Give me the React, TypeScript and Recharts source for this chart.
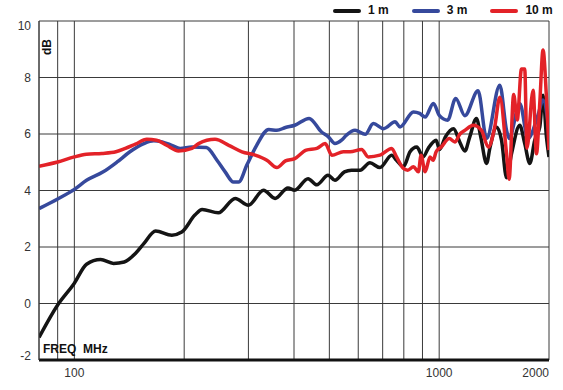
import React from 'react';
import { LineChart, Line, XAxis, YAxis, CartesianGrid, ReferenceLine } from 'recharts';

// 1 m series
const oneMFreq = [80, 90, 100, 108, 118, 128, 137, 147, 155, 167, 185, 197, 214, 224, 248, 276, 300, 330, 355, 385, 402, 437, 462, 496, 518, 550, 575, 607, 646, 688, 741, 764, 798, 832, 868, 904, 933, 981, 1002, 1040, 1095, 1140, 1176, 1213, 1265, 1300, 1349, 1377, 1436, 1482, 1530, 1579, 1663, 1716, 1772, 1828, 1887, 1926, 1968, 2000];
const oneMdB = [-1.2, -0.05, 0.72, 1.39, 1.56, 1.42, 1.47, 1.77, 2.12, 2.57, 2.42, 2.53, 3.13, 3.33, 3.21, 3.72, 3.48, 4.01, 3.72, 4.09, 4.01, 4.42, 4.2, 4.54, 4.36, 4.66, 4.72, 4.72, 4.98, 4.81, 5.25, 5.07, 4.84, 5.37, 5.54, 5.19, 5.49, 5.78, 5.45, 5.9, 6.19, 5.7, 5.4, 5.9, 6.55, 5.9, 4.96, 5.5, 6.25, 5.78, 4.45, 5.31, 6.31, 5.66, 4.96, 5.78, 6.25, 7.37, 5.9, 5.19];

// 3 m series
const threeMFreq = [80, 90, 100, 108, 120, 131, 142, 155, 165, 174, 185, 195, 210, 230, 246, 259, 273, 282, 297, 316, 341, 359, 379, 402, 440, 476, 497, 518, 540, 557, 588, 627, 660, 704, 757, 781, 850, 884, 915, 964, 1002, 1055, 1110, 1176, 1278, 1349, 1466, 1530, 1555, 1663, 1752, 1866, 1926, 2000];
const threeMdB = [3.36, 3.7, 4.04, 4.36, 4.66, 5.01, 5.37, 5.66, 5.76, 5.72, 5.6, 5.49, 5.54, 5.52, 5.07, 4.66, 4.3, 4.3, 4.9, 5.6, 6.16, 6.13, 6.23, 6.31, 6.55, 6.07, 5.9, 5.66, 5.78, 5.96, 6.13, 5.99, 6.37, 6.19, 6.43, 6.25, 6.78, 6.73, 6.6, 7.08, 6.65, 6.49, 7.26, 6.65, 7.53, 5.84, 7.73, 6.13, 5.84, 7.08, 5.84, 6.67, 7.2, 6.13];

// 10 m series
const tenMFreq = [80, 90, 100, 108, 119, 130, 138, 147, 158, 168, 179, 193, 210, 219, 243, 265, 288, 313, 337, 359, 379, 402, 432, 462, 487, 508, 546, 570, 613, 639, 688, 741, 764, 798, 820, 850, 877, 892, 915, 944, 963, 981, 1013, 1066, 1104, 1140, 1176, 1240, 1306, 1364, 1420, 1466, 1530, 1555, 1600, 1637, 1681, 1716, 1740, 1809, 1848, 1887, 1926, 1968, 2000];
const tenMdB = [4.86, 5.01, 5.19, 5.28, 5.31, 5.37, 5.49, 5.64, 5.81, 5.78, 5.6, 5.4, 5.49, 5.66, 5.81, 5.6, 5.37, 5.25, 5.07, 4.81, 5.05, 5.13, 5.43, 5.49, 5.66, 5.25, 5.37, 5.37, 5.45, 5.19, 5.25, 5.49, 5.19, 4.78, 4.72, 4.84, 4.66, 5.25, 4.66, 5.19, 5.07, 5.37, 5.54, 5.84, 5.72, 6.0, 6.13, 6.31, 6.13, 5.54, 6.25, 7.3, 5.3, 4.4, 7.4, 6.5, 8.3, 8.3, 5.5, 7.55, 5.3, 7.1, 8.97, 7.3, 5.43];

const seriesNames = ['1 m', '3 m', '10 m'];
const seriesColors = ['#141414', '#36499c', '#e32228'];

const gridFreqs = [80, 90, 100, 200, 300, 400, 500, 600, 700, 800, 900, 1000, 2000];
const xTicks = [100, 1000, 2000];
const yTicks = [-2, 0, 2, 4, 6, 8, 10];

const build = (fs: number[], vs: number[]) => fs.map((f, i) => ({ f, v: vs[i] }));
const seriesData = [build(oneMFreq, oneMdB), build(threeMFreq, threeMdB), build(tenMFreq, tenMdB)];

const FONT = 'Arial, "Liberation Sans", sans-serif';

const YTick = (props: any) => {
  const { x, y, payload } = props;
  let dy = 4;
  if (payload.value === 10) dy = 9;
  if (payload.value === -2) dy = 0;
  return (
    <text x={x} y={y + dy} textAnchor="end" fontSize={12} fill="#333" fontFamily={FONT}>
      {payload.value}
    </text>
  );
};

const XTick = (props: any) => {
  const { x, y, payload } = props;
  const anchor = payload.value === 2000 ? 'end' : 'middle';
  return (
    <text x={x} y={y + 9} textAnchor={anchor} fontSize={12} fill="#333" fontFamily={FONT}>
      {payload.value}
    </text>
  );
};

export default function App() {
  return (
    <div style={{ position: 'absolute', left: 0, top: 0, width: 563, height: 390, background: '#fff' }}>
      <LineChart width={563} height={390} margin={{ top: 21, right: 14, bottom: 0, left: 0 }}>
        <CartesianGrid horizontal={true} vertical={false} stroke="#3a3a3a" strokeWidth={1} />
        <XAxis
          dataKey="f"
          type="number"
          scale="log"
          domain={[80, 2000]}
          allowDataOverflow
          ticks={xTicks}
          tickLine={false}
          axisLine={{ stroke: '#111', strokeWidth: 3 }}
          height={30}
          tick={<XTick />}
          interval={0}
        />
        <YAxis
          type="number"
          domain={[-2, 10]}
          ticks={yTicks}
          width={39}
          tickLine={false}
          axisLine={{ stroke: '#3a3a3a' }}
          tick={<YTick />}
          interval={0}
          allowDataOverflow
        />
        {gridFreqs.map((g) => (
          <ReferenceLine key={g} x={g} stroke="#3a3a3a" strokeWidth={1} />
        ))}
        {seriesData.map((d, i) => (
          <Line
            key={seriesNames[i]}
            data={d}
            dataKey="v"
            name={seriesNames[i]}
            type="monotone"
            stroke={seriesColors[i]}
            strokeWidth={3.5}
            dot={false}
            activeDot={false}
            isAnimationActive={false}
            strokeLinejoin="round"
          />
        ))}
      </LineChart>
      <div style={{ position: 'absolute', left: 333, top: 3, display: 'flex', alignItems: 'center', fontFamily: FONT, fontWeight: 'bold', fontSize: 12, color: '#111', lineHeight: '15px', whiteSpace: 'nowrap' }}>
        {seriesNames.map((n, i) => (
          <div key={n} style={{ display: 'flex', alignItems: 'center', marginRight: 23, flexShrink: 0 }}>
            <div style={{ width: 28, height: 4, background: seriesColors[i], borderRadius: 2, marginRight: 7, flexShrink: 0 }} />
            <span style={{ whiteSpace: 'nowrap' }}>{n}</span>
          </div>
        ))}
      </div>
      <div style={{ position: 'absolute', left: 40, top: 40, width: 14, height: 14, display: 'flex', alignItems: 'center', justifyContent: 'center', transform: 'rotate(-90deg)', fontFamily: FONT, fontWeight: 'bold', fontSize: 12, color: '#111', whiteSpace: 'nowrap' }}>
        dB
      </div>
      <div style={{ position: 'absolute', left: 43, top: 342, fontFamily: FONT, fontWeight: 'bold', fontSize: 12, color: '#111', whiteSpace: 'pre', lineHeight: '15px' }}>
        {'FREQ  MHz'}
      </div>
    </div>
  );
}
